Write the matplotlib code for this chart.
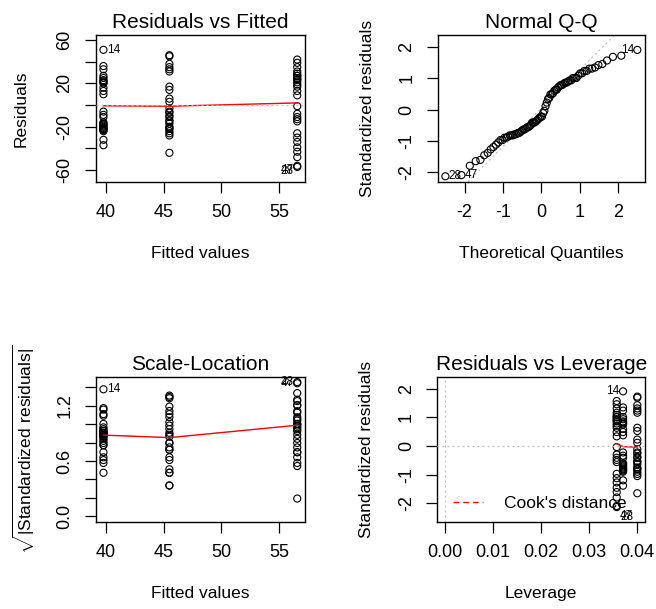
import numpy as np
import matplotlib
matplotlib.use("Agg")
import matplotlib.pyplot as plt
from statistics import NormalDist

plt.rcParams['font.family'] = ['Liberation Sans', 'DejaVu Sans']
plt.rcParams['mathtext.fontset'] = 'custom'
plt.rcParams['mathtext.rm'] = 'Liberation Sans'
plt.rcParams['axes.unicode_minus'] = False

# fitted value of each group and the residuals
fitted_levels = [39.8, 45.5, 56.55]
resid_g1 = [51, 36, 33, 27, 25, 23, 22, 21, 20, 16, 13, 10,
            -6, -9, -11, -16, -17, -18, -19, -20, -21, -22, -22, -23, -24, -32, -37]
resid_g2 = [46, 45, 38, 35, 33, 31, 17, 14, 6, 3,
            -3, -6, -7, -10, -11, -14, -15, -17, -20, -21, -22, -24, -26, -28, -44]
resid_g3 = [42, 39, 35, 31, 29, 27, 27, 25, 24, 23, 21, 19, 17, 13, 9,
            -1, -8, -11, -13, -15, -26, -30, -34, -39, -43, -48, -56, -57]
outlier_ids = ["28", "47", "14"]  # from most negative to most positive

groups = [resid_g1, resid_g2, resid_g3]
sizes = [len(g) for g in groups]
r = np.concatenate([np.array(g, float) for g in groups])
yhat = np.repeat(fitted_levels, sizes)
h = np.repeat([1.0 / k for k in sizes], sizes)
n, p = len(r), len(groups)
s = np.sqrt(np.sum(r ** 2) / (n - p))
rs = r / (s * np.sqrt(1 - h))
cook = rs ** 2 * h / (p * (1 - h))

ids = np.array([""] * n, dtype=object)
ext = np.argsort(np.abs(rs))[-3:]
ids[ext[np.argsort(rs[ext])]] = outlier_ids


def lowess(x, y, f=2 / 3, iters=3):
    o = np.argsort(x, kind="stable")
    x, y = x[o], y[o]
    m = len(x)
    ns = max(min(int(round(f * m)), m), 2)
    rw = np.ones(m)
    fit = np.zeros(m)
    for it in range(iters + 1):
        nl, nr = 0, ns - 1
        for i in range(m):
            while nr < m - 1 and x[i] - x[nl] > x[nr + 1] - x[i]:
                nl += 1
                nr += 1
            hh = max(x[i] - x[nl], x[nr] - x[i])
            d = np.abs(x - x[i])
            w = np.where(d <= 0.001 * hh, 1.0, (1 - (d / max(hh, 1e-12)) ** 3) ** 3)
            w[d > 0.999 * hh] = 0
            w[:nl] = 0
            w[d <= 0.001 * hh] = 1.0
            w = w * rw
            sw = w.sum()
            xm = np.sum(w * x) / sw
            ym = np.sum(w * y) / sw
            c = np.sum(w * (x - xm) ** 2)
            if np.sqrt(c) > 0.001 * (x[-1] - x[0]):
                b = np.sum(w * (x - xm) * (y - ym)) / c
                fit[i] = ym + b * (x[i] - xm)
            else:
                fit[i] = ym
        if it == iters:
            break
        res = np.abs(y - fit)
        cm = 6 * np.median(res)
        rw = np.where(res <= 0.001 * cm, 1.0, (1 - (res / cm) ** 2) ** 2)
        rw[res > 0.999 * cm] = 0
    return x, fit


def rlim(lo, hi):
    d = (hi - lo) * 0.04
    return lo - d, hi + d


def ext8(v):
    d = (v.max() - v.min()) * 0.08
    return v.min() - d, v.max() + d


def label_points(ax, x, y, idx, low_dy=0):
    mid = (x[idx].min() + x[idx].max()) / 2
    for i in idx:
        left = x[i] > mid
        dy = low_dy if y[i] < 0 else 0
        ax.annotate(ids[i], (x[i], y[i]), xytext=(-2.5 if left else 2.5, dy),
                    textcoords="offset points", ha="right" if left else "left",
                    va="center", fontsize=8.5, annotation_clip=False)


def style(ax, title, xlabel, ylabel, ypad=17):
    ax.set_title(title, fontsize=15, pad=5)
    ax.set_xlabel(xlabel, fontsize=12.5, labelpad=18)
    ax.set_ylabel(ylabel, fontsize=12.5, labelpad=ypad)
    ax.tick_params(direction="out", length=8, width=0.9, pad=8, labelsize=13)
    ax.tick_params(axis="y", labelrotation=90)
    for lbl in ax.get_yticklabels():
        lbl.set_va("center")
    for sp in ax.spines.values():
        sp.set_linewidth(1.0)


W, H = 656, 609
fig = plt.figure(figsize=(W / 100, H / 100), dpi=100)
pos = [(95.7, 35, 305, 181.7), (437.7, 35, 645, 181.7),
       (95.7, 376.7, 305, 521.7), (437.3, 376.7, 645, 521.7)]
axs = [fig.add_axes([x0 / W, 1 - y1 / H, (x1 - x0) / W, (y1 - y0) / H])
       for x0, y0, x1, y1 in pos]
pt = dict(marker="o", s=26, facecolors="none", edgecolors="black", linewidths=0.8, zorder=3)
dot = dict(color="#bebebe", linestyle=(0, (1.5, 2.5)), linewidth=0.9)

# Residuals vs Fitted
ax = axs[0]
ax.scatter(yhat, r, **pt)
lx, ly = lowess(yhat, r)
ax.plot(lx, ly, color="red", linewidth=1, zorder=4)
ax.axhline(0, zorder=5, **dot)
label_points(ax, yhat, r, np.argsort(np.abs(r))[-3:], low_dy=-3)
ax.set_xlim(*rlim(yhat.min(), yhat.max()))
ax.set_ylim(*rlim(*ext8(r)))
ax.set_xticks([40, 45, 50, 55])
ax.set_yticks([-60, -40, -20, 0, 20, 40, 60])
ax.set_yticklabels(["-60", "", "-20", "", "20", "", "60"])
style(ax, "Residuals vs Fitted", "Fitted values", "Residuals", ypad=20)

# Normal Q-Q
ax = axs[1]
nd = NormalDist()
order = np.argsort(rs)
q = np.empty(n)
q[order] = [nd.inv_cdf((i + 0.5) / n) for i in range(n)]
ax.scatter(q, rs, **pt)
y25, y75 = np.quantile(rs, [0.25, 0.75])
x25, x75 = nd.inv_cdf(0.25), nd.inv_cdf(0.75)
slope = (y75 - y25) / (x75 - x25)
ax.axline((x25, y25), slope=slope, zorder=2, **dot)
label_points(ax, q, rs, np.argsort(np.abs(rs))[-3:])
ax.set_xlim(*rlim(q.min(), q.max()))
ax.set_ylim(*rlim(rs.min(), rs.max() + (rs.max() - rs.min()) * 0.075))
ax.set_xticks([-2, -1, 0, 1, 2])
ax.set_yticks([-2, -1, 0, 1, 2])
style(ax, "Normal Q-Q", "Theoretical Quantiles", "Standardized residuals")

# Scale-Location
ax = axs[2]
sq = np.sqrt(np.abs(rs))
ax.scatter(yhat, sq, **pt)
lx, ly = lowess(yhat, sq)
ax.plot(lx, ly, color="red", linewidth=1, zorder=4)
label_points(ax, yhat, sq, np.argsort(sq)[-3:])
ax.set_xlim(*rlim(yhat.min(), yhat.max()))
ax.set_ylim(*rlim(0, sq.max()))
ax.set_xticks([40, 45, 50, 55])
ax.set_yticks(np.arange(0, 1.41, 0.2))
ax.set_yticklabels(["0.0", "", "", "0.6", "", "", "1.2", ""])
style(ax, "Scale-Location", "Fitted values",
      r"$\sqrt{|\mathrm{Standardized\ residuals}|}$", ypad=14)

# Residuals vs Leverage
ax = axs[3]
ax.scatter(h, rs, **pt)
lx, ly = lowess(h, rs)
ax.plot(lx, ly, color="red", linewidth=1, zorder=4)
ax.axhline(0, zorder=5, **dot)
ax.axvline(0, zorder=5, **dot)
label_points(ax, h, rs, np.argsort(cook)[-3:], low_dy=-7)
ax.set_xlim(*rlim(0, h.max()))
ax.set_ylim(*rlim(*ext8(rs)))
ax.set_xticks([0, 0.01, 0.02, 0.03, 0.04])
ax.set_xticklabels(["0.00", "0.01", "0.02", "0.03", "0.04"])
ax.set_yticks([-2, -1, 0, 1, 2])
ax.plot([], [], color="red", linestyle=(0, (4, 3)), linewidth=1, label="Cook's distance")
ax.legend(loc="lower left", bbox_to_anchor=(0.074, 0.074), borderaxespad=0,
          borderpad=0, frameon=False, fontsize=12.5, handlelength=1.75,
          handletextpad=1.2)
style(ax, "Residuals vs Leverage", "Leverage", "Standardized residuals")

fig.savefig("out.png", dpi=100)
